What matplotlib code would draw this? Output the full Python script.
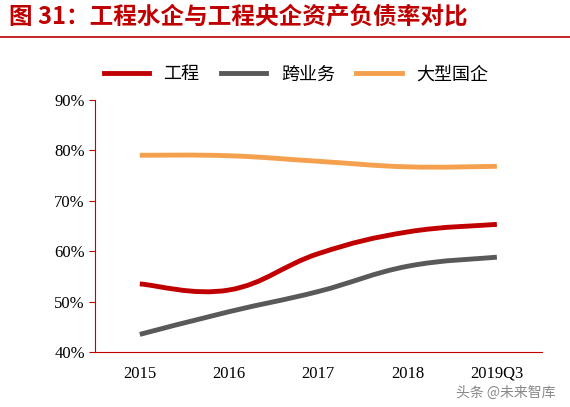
import matplotlib.pyplot as plt
import numpy as np
from matplotlib.path import Path
from matplotlib.patches import PathPatch

plt.rcParams['font.family'] = ['Noto Sans CJK SC', 'DejaVu Sans']

categories = ['2015', '2016', '2017', '2018', '2019Q3']
gongcheng = [53.5, 52.3, 59.5, 63.8, 65.3]
kuayewu = [43.5, 48.0, 52.0, 57.0, 58.8]
daxing = [79.0, 78.9, 77.8, 76.7, 76.8]

series = [('工程', gongcheng, '#C00000'),
          ('跨业务', kuayewu, '#595959'),
          ('大型国企', daxing, '#F4A04F')]


def smooth_path(x, y, t=0.2):
    # catmull-rom style bezier through the data points
    x = np.asarray(x, float); y = np.asarray(y, float)
    verts = [(x[0], y[0])]
    codes = [Path.MOVETO]
    n = len(x)
    for i in range(n - 1):
        p0 = i - 1 if i > 0 else i
        p3 = i + 2 if i + 2 < n else i + 1
        c1 = (x[i] + (x[i + 1] - x[p0]) * t, y[i] + (y[i + 1] - y[p0]) * t)
        c2 = (x[i + 1] - (x[p3] - x[i]) * t, y[i + 1] - (y[p3] - y[i]) * t)
        verts += [c1, c2, (x[i + 1], y[i + 1])]
        codes += [Path.CURVE4] * 3
    return Path(verts, codes)


fig = plt.figure(figsize=(5.7, 4.07), dpi=100)
ax = fig.add_axes([0.167, 0.135, 0.783, 0.62])
xs = np.arange(len(categories))
for name, vals, c in series:
    ax.add_patch(PathPatch(smooth_path(xs, vals), fill=False, edgecolor=c, lw=3.5))
    ax.plot([], [], color=c, lw=3.5, label=name)

ax.set_xlim(-0.5, 4.5)
ax.set_ylim(40, 90)
ax.set_yticks(range(40, 91, 10))
ax.set_yticklabels([f'{v}%' for v in range(40, 91, 10)], fontsize=12,
                   family=['Times New Roman', 'Liberation Serif'])
ax.set_xticks(xs)
ax.set_xticklabels(categories, fontsize=12, family=['Liberation Serif'])
for s in ['top', 'right']:
    ax.spines[s].set_visible(False)
ax.spines['left'].set_color('#C00000')
ax.spines['bottom'].set_color('#C00000')
ax.tick_params(axis='both', colors='#C00000', labelcolor='black', length=4)
ax.tick_params(axis='x', length=0, pad=10)

ax.legend(loc='lower center', bbox_to_anchor=(0.45, 1.0), ncol=3, frameon=False,
          fontsize=13, handlelength=2.5, columnspacing=1.2)

fig.text(0.015, 0.94, '图 31：工程水企与工程央企资产负债率对比', color='#C00000',
         fontsize=17, fontweight='bold')
fig.add_artist(plt.Line2D([0.0, 1.0], [0.91, 0.91], color='#C00000', lw=1.2))
fig.text(0.80, 0.025, '头条 @未来智库', color='#888888', fontsize=10)

fig.savefig('out.png', dpi=100)
